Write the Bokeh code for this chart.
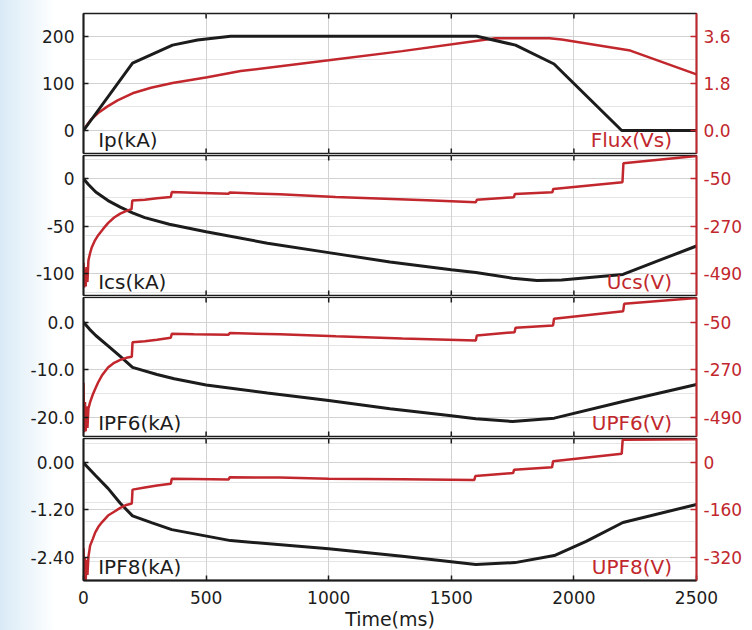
import math
from bokeh.plotting import figure
from bokeh.models import Range1d, LinearAxis, FixedTicker, PrintfTickFormatter, Label, Grid
from bokeh.layouts import column
from bokeh.embed import file_html
from bokeh.resources import INLINE

# ---------------- data ----------------
time_ticks = [0, 500, 1000, 1500, 2000, 2500]

ip_t = [0, 200, 363, 465, 600, 1604, 1762, 1919, 2195, 2500]
ip_kA = [0, 143, 181, 192, 200, 200, 181, 141, 0, 0]
flux_t = [0, 15, 30, 64, 98, 139, 200, 275, 363, 505, 641, 1000, 1300, 1600, 1680, 1900, 1950, 2230, 2500]
flux_Vs = [0, 0.22, 0.41, 0.70, 0.92, 1.15, 1.42, 1.63, 1.81, 2.03, 2.27, 2.68, 3.03, 3.42, 3.52, 3.52, 3.47, 3.05, 2.14]

ics_t = [0, 20, 50, 100, 150, 200, 250, 350, 500, 750, 1000, 1250, 1500, 1600, 1750, 1850, 1950, 2200, 2350, 2500]
ics_kA = [0, -6, -14, -23, -30, -36, -41, -48, -56, -68, -78, -88, -96, -99, -105, -107.5, -107, -101, -86, -71]
ucs_t = [0, 3, 6, 9, 12, 16, 20, 27, 34, 45, 60, 80, 100, 125, 150, 175, 196, 199, 250, 300, 356, 360, 450, 592, 596,
         800, 1028, 1200, 1400, 1600, 1604, 1755, 1759, 1912, 1916, 2198, 2202, 2500]
ucs_V = [-440, -555, -470, -550, -460, -530, -430, -395, -368, -340, -312, -283, -256, -230, -212, -199, -191, -151,
         -147, -141, -135, -112, -115, -120, -114, -122, -135, -142, -150, -159, -148, -136, -121, -113, -97, -66, 22, 56]

ipf6_t = [0, 25, 50, 100, 150, 200, 300, 370, 500, 750, 1000, 1250, 1500, 1600, 1750, 1920, 2200, 2500]
ipf6_kA = [0, -1.5, -2.8, -5.0, -7.2, -9.5, -11.0, -11.9, -13.2, -14.9, -16.5, -18.2, -19.7, -20.3, -20.9, -20.2, -16.7, -13.1]
upf6_t = [0, 3, 6, 9, 12, 16, 20, 27, 38, 48, 60, 75, 100, 125, 150, 175, 197, 200, 250, 300, 356, 360, 450, 592, 596,
          800, 1030, 1300, 1600, 1604, 1758, 1762, 1915, 1919, 2201, 2205, 2500]
upf6_V = [-330, -560, -420, -555, -440, -540, -450, -420, -385, -358, -328, -297, -260, -238, -224, -215, -210, -143,
          -138, -131, -122, -104, -106, -108, -100, -106, -115, -125, -135, -112, -96, -76, -65, -34, 1, 35, 62]

ipf8_t = [0, 50, 100, 150, 200, 280, 360, 600, 1000, 1300, 1600, 1760, 1920, 2050, 2200, 2500]
ipf8_kA = [0, -0.33, -0.65, -1.03, -1.35, -1.53, -1.70, -1.98, -2.19, -2.38, -2.59, -2.54, -2.36, -2.0, -1.52, -1.06]
upf8_t = [0, 3, 6, 9, 12, 16, 20, 27, 38, 48, 60, 75, 100, 125, 150, 175, 197, 200, 250, 300, 356, 360, 450, 592, 596,
          800, 1000, 1300, 1594, 1598, 1752, 1756, 1911, 1915, 2195, 2199, 2500]
upf8_V = [-290, -395, -320, -398, -330, -380, -320, -281, -258, -236, -218, -202, -179, -166, -153, -143, -138, -91,
          -84, -77, -71, -54, -55, -57, -49, -50, -54, -56, -58, -45, -35, -24, -15, 5, 31, 78, 80]

left_names = ["Ip(kA)", "Ics(kA)", "IPF6(kA)", "IPF8(kA)"]
right_names = ["Flux(Vs)", "Ucs(V)", "UPF6(V)", "UPF8(V)"]
left_ticks = [[0, 100, 200], [-100, -50, 0], [-20.0, -10.0, 0.0], [-2.40, -1.20, 0.00]]
right_ticks = [[0.0, 1.8, 3.6], [-490, -270, -50], [-490, -270, -50], [-320, -160, 0]]
x_title = "Time(ms)"

# ---------------- style ----------------
RED = "#c1272d"
BLACK = "#1c1c1c"
GRID = "#d2d2d2"
FONT = "DejaVu Sans"
TICK_FS = "17px"
NAME_FS = "20px"

x_range = Range1d(0, 2500)


def panel(frame_h, b_top, b_bottom, yl, yr, lt, lfmt, rt, rfmt, lname, rname, bottom=False):
    p = figure(frame_width=613, frame_height=frame_h, x_range=x_range, y_range=Range1d(*yl),
               output_backend="svg", toolbar_location=None,
               min_border_left=83, min_border_right=56, min_border_top=b_top, min_border_bottom=b_bottom,
               x_axis_location=None, y_axis_location=None)
    p.extra_y_ranges = {"r": Range1d(*yr)}
    p.outline_line_color = BLACK
    p.outline_line_width = 1.3
    p.border_fill_color = None
    p.background_fill_color = "white"

    p.add_layout(Grid(dimension=0, ticker=FixedTicker(ticks=time_ticks), grid_line_color=GRID, grid_line_width=1))
    p.add_layout(Grid(dimension=1, ticker=FixedTicker(ticks=lt), grid_line_color=GRID, grid_line_width=1))

    la = LinearAxis(ticker=FixedTicker(ticks=lt), formatter=PrintfTickFormatter(format=lfmt),
                    axis_line_color=BLACK, axis_line_width=2, major_tick_in=5, major_tick_out=0,
                    major_tick_line_color=BLACK, major_tick_line_width=1.5, minor_tick_line_color=None,
                    major_label_text_font=FONT, major_label_text_font_size=TICK_FS,
                    major_label_text_color=BLACK, major_label_standoff=9)
    p.add_layout(la, "left")
    ra = LinearAxis(y_range_name="r", ticker=FixedTicker(ticks=rt), formatter=PrintfTickFormatter(format=rfmt),
                    axis_line_color=RED, axis_line_width=2, major_tick_in=6, major_tick_out=0,
                    major_tick_line_color=RED, major_tick_line_width=1.5, minor_tick_line_color=None,
                    major_label_text_font=FONT, major_label_text_font_size=TICK_FS,
                    major_label_text_color=RED, major_label_standoff=7)
    p.add_layout(ra, "right")

    ylo, yhi = yl
    # inward tick marks on the top (and inner bottom) borders: half of each dash is clipped by the frame
    p.scatter(time_ticks[1:-1], [yhi] * (len(time_ticks) - 2), marker="dash", size=10, angle=math.pi / 2,
              line_color=BLACK, line_width=1.5)
    if bottom:
        bx = LinearAxis(ticker=FixedTicker(ticks=time_ticks),
                        axis_line_color=BLACK, axis_line_width=2,
                        major_tick_in=5, major_tick_out=0, major_tick_line_color=BLACK,
                        major_tick_line_width=1.5, minor_tick_line_color=None,
                        major_label_text_font=FONT, major_label_text_font_size=TICK_FS,
                        major_label_text_color=BLACK, major_label_standoff=10,
                        axis_label=x_title, axis_label_text_font=FONT, axis_label_text_font_size="19px",
                        axis_label_text_font_style="normal", axis_label_text_color=BLACK,
                        axis_label_standoff=1)
        p.add_layout(bx, "below")
    else:
        p.scatter(time_ticks[1:-1], [ylo] * (len(time_ticks) - 2), marker="dash", size=10, angle=math.pi / 2,
                  line_color=BLACK, line_width=1.5)

    ypos = ylo + (yhi - ylo) * (1.5 / frame_h)
    p.add_layout(Label(x=60, y=ypos, text=lname, text_font=FONT, text_font_size=NAME_FS,
                       text_color=BLACK, text_baseline="bottom", text_align="left"))
    p.add_layout(Label(x=2400, y=ypos, text=rname, text_font=FONT, text_font_size=NAME_FS,
                       text_color=RED, text_baseline="bottom", text_align="right"))
    return p


p1 = panel(140, 13, 1, (-48.8, 248.1), (-0.878, 4.466), left_ticks[0], "%d", right_ticks[0], "%.1f",
           left_names[0], right_names[0])
p1.line(flux_t, flux_Vs, y_range_name="r", line_color=RED, line_width=2.5)
p1.line(ip_t, ip_kA, line_color=BLACK, line_width=3)

p2 = panel(140, 1, 1, (-123.3, 24.6), (-592.5, 58.2), left_ticks[1], "%d", right_ticks[1], "%d",
           left_names[1], right_names[1])
p2.line(ics_t, ics_kA, line_color=BLACK, line_width=3)
p2.line(ucs_t, ucs_V, y_range_name="r", line_color=RED, line_width=2.5)

p3 = panel(139, 1, 1, (-24.06, 5.2), (-579.3, 64.4), left_ticks[2], "%.1f", right_ticks[2], "%d",
           left_names[2], right_names[2])
p3.line(ipf6_t, ipf6_kA, line_color=BLACK, line_width=3)
p3.line(upf6_t, upf6_V, y_range_name="r", line_color=RED, line_width=2.5)

p4 = panel(142, 1, 50, (-2.995, 0.618), (-399.3, 82.4), left_ticks[3], "%.2f", right_ticks[3], "%d",
           left_names[3], right_names[3], bottom=True)
p4.line(ipf8_t, ipf8_kA, line_color=BLACK, line_width=3)
p4.line(upf8_t, upf8_V, y_range_name="r", line_color=RED, line_width=2.5)

layout = column(p1, p2, p3, p4, spacing=0,
                styles={"background": "linear-gradient(90deg, #d9eaf6 0px, #eaf4fa 25px, #ffffff 55px)"})

open("out.html", "w").write(file_html(layout, INLINE))
